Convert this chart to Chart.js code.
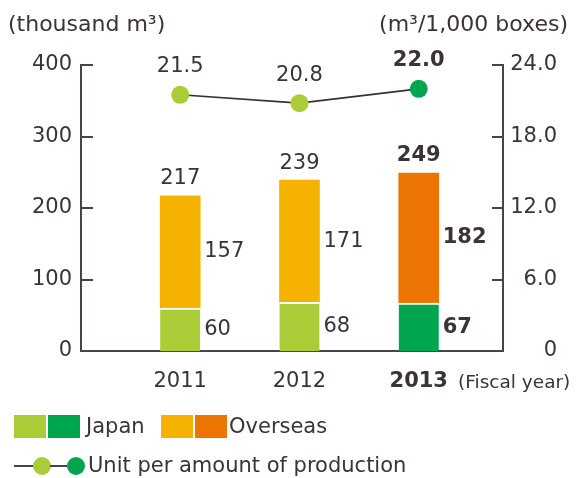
<!DOCTYPE html>
<html>
<head>
<meta charset="utf-8">
<script src="https://cdn.jsdelivr.net/npm/chart.js@4/dist/chart.umd.min.js"></script>
<style>
  html, body { margin: 0; padding: 0; background: #fff; }
  #wrap { position: relative; width: 576px; height: 478px; overflow: hidden; font-family: "DejaVu Sans", sans-serif; color: #3b3335; }
  #c { position: absolute; left: 0; top: 0; }
  .t { position: absolute; white-space: nowrap; line-height: 1; }
  .sq { position: absolute; width: 32px; height: 23px; }
  .dot { position: absolute; width: 18px; height: 18px; border-radius: 50%; }
  .ln { position: absolute; height: 2px; background: #4a4344; }
</style>
</head>
<body>
<div id="wrap">
  <canvas id="c" width="576" height="478"></canvas>
  <div class="t" style="left:8px; top:13px; font-size:22px;">(thousand m³)</div>
  <div class="t" style="right:8px; top:13px; font-size:22px;">(m³/1,000 boxes)</div>
  <div class="t" style="left:458px; top:373px; font-size:18.5px;">(Fiscal year)</div>

  <div class="sq" style="left:14px; top:415px; background:#aacc37;"></div>
  <div class="sq" style="left:48px; top:415px; background:#00a550;"></div>
  <div class="t" style="left:86px; top:416px; font-size:21px;">Japan</div>
  <div class="sq" style="left:161px; top:415px; background:#f6b200;"></div>
  <div class="sq" style="left:195px; top:415px; background:#ec7402;"></div>
  <div class="t" style="left:229px; top:416px; font-size:21px;">Overseas</div>

  <div class="ln" style="left:14px; top:465px; width:20px;"></div>
  <div class="dot" style="left:33px; top:457px; background:#aacc37;"></div>
  <div class="ln" style="left:50px; top:465px; width:18px;"></div>
  <div class="dot" style="left:67px; top:457px; background:#00a550;"></div>
  <div class="t" style="left:88px; top:455px; font-size:21px;">Unit per amount of production</div>
</div>
<script>
// ---- data ----
const years = [2011, 2012, 2013];
const japan = [60, 68, 67];
const overseas = [157, 171, 182];
const unitPerProduction = [21.5, 20.8, 22.0];
const leftTicks = [0, 100, 200, 300, 400];
const rightTicks = [0, 6, 12, 18, 24];

// ---- styles ----
const TEXT = '#3b3335';
const AXIS = '#4a4344';
const FONT = '"DejaVu Sans", sans-serif';
const hi = years.length - 1; // latest year is highlighted
const japanColors = years.map((y, i) => i === hi ? '#00a550' : '#aacc37');
const overseasColors = years.map((y, i) => i === hi ? '#ec7402' : '#f6b200');

const labelPlugin = {
  id: 'labels',
  afterDatasetsDraw(chart) {
    const ctx = chart.ctx;
    const mJ = chart.getDatasetMeta(0);
    const mO = chart.getDatasetMeta(1);
    const mL = chart.getDatasetMeta(2);
    ctx.save();
    ctx.fillStyle = TEXT;
    ctx.textBaseline = 'middle';
    years.forEach((yr, i) => {
      const w = i === hi ? 'bold ' : '';
      ctx.font = w + '21px ' + FONT;
      const bj = mJ.data[i], bo = mO.data[i];
      const half = bj.width / 2;
      ctx.textAlign = 'center';
      ctx.fillText(String(japan[i] + overseas[i]), bo.x, bo.y - 17);
      ctx.textAlign = 'left';
      ctx.fillText(String(overseas[i]), bo.x + half + 4, (bo.y + bo.base) / 2);
      ctx.fillText(String(japan[i]), bj.x + half + 4, (bj.y + bj.base) / 2);
      const p = mL.data[i];
      ctx.textAlign = 'center';
      ctx.fillText(unitPerProduction[i].toFixed(1), p.x, p.y - 28);
    });
    ctx.restore();
  },
  afterDraw(chart) {
    const ctx = chart.ctx;
    const a = chart.chartArea;
    ctx.save();
    ctx.strokeStyle = AXIS;
    ctx.lineWidth = 2;
    const ys = chart.scales.y, ys1 = chart.scales.y1;
    leftTicks.forEach(v => {
      if (v === 0) return;
      const py = Math.round(ys.getPixelForValue(v));
      ctx.beginPath(); ctx.moveTo(a.left, py); ctx.lineTo(a.left + 12, py); ctx.stroke();
    });
    rightTicks.forEach(v => {
      if (v === 0) return;
      const py = Math.round(ys1.getPixelForValue(v));
      ctx.beginPath(); ctx.moveTo(a.right - 11, py); ctx.lineTo(a.right, py); ctx.stroke();
    });
    ctx.restore();
  }
};

new Chart(document.getElementById('c'), {
  type: 'bar',
  data: {
    datasets: [
      {
        label: 'Japan',
        data: years.map((x, i) => ({ x, y: japan[i] })),
        backgroundColor: japanColors,
        borderColor: '#ffffff',
        borderWidth: { top: 2, left: 0, right: 0, bottom: 0 },
        borderSkipped: false,
        barThickness: 40,
        stack: 's',
        yAxisID: 'y',
        order: 2
      },
      {
        label: 'Overseas',
        data: years.map((x, i) => ({ x, y: overseas[i] })),
        backgroundColor: overseasColors,
        borderWidth: 0,
        barThickness: 40,
        stack: 's',
        yAxisID: 'y',
        order: 2
      },
      {
        type: 'line',
        label: 'Unit per amount of production',
        data: years.map((x, i) => ({ x, y: unitPerProduction[i] })),
        yAxisID: 'y1',
        borderColor: '#333333',
        borderWidth: 1.6,
        pointRadius: 9,
        pointHoverRadius: 9,
        pointBorderWidth: 0,
        pointBackgroundColor: japanColors,
        fill: false,
        order: 1
      }
    ]
  },
  options: {
    responsive: false,
    animation: false,
    events: [],
    layout: { padding: { top: 65, left: 0, right: 19, bottom: 0 } },
    plugins: { legend: { display: false }, tooltip: { enabled: false } },
    scales: {
      x: {
        type: 'linear',
        min: 2010.168,
        max: 2013.7065,
        offset: false,
        bounds: 'ticks',
        stacked: true,
        afterBuildTicks: s => { s.ticks = years.map(v => ({ value: v })); },
        afterFit: s => { s.height = 127; },
        grid: { display: false, drawTicks: false, offset: false },
        border: { display: true, color: AXIS, width: 2 },
        ticks: {
          color: TEXT,
          padding: 18,
          callback: v => String(v),
          font: ctx => ({ family: FONT, size: 21, weight: (ctx.tick && ctx.tick.value === years[hi]) ? 'bold' : 'normal' })
        }
      },
      y: {
        position: 'left',
        min: 0, max: 400,
        stacked: true,
        afterBuildTicks: s => { s.ticks = leftTicks.map(v => ({ value: v })); },
        afterFit: s => { s.width = 81; },
        grid: { display: false, drawTicks: false },
        border: { display: true, color: AXIS, width: 2 },
        ticks: { color: TEXT, padding: 9, font: { family: FONT, size: 21 } }
      },
      y1: {
        position: 'right',
        min: 0, max: 24,
        afterBuildTicks: s => { s.ticks = rightTicks.map(v => ({ value: v })); },
        afterFit: s => { s.width = 54; },
        grid: { display: false, drawTicks: false },
        border: { display: true, color: AXIS, width: 2 },
        ticks: {
          color: TEXT, padding: 10, crossAlign: 'far',
          font: { family: FONT, size: 21 },
          callback: v => v === 0 ? '0' : v.toFixed(1)
        }
      }
    }
  },
  plugins: [labelPlugin]
});
</script>
</body>
</html>
